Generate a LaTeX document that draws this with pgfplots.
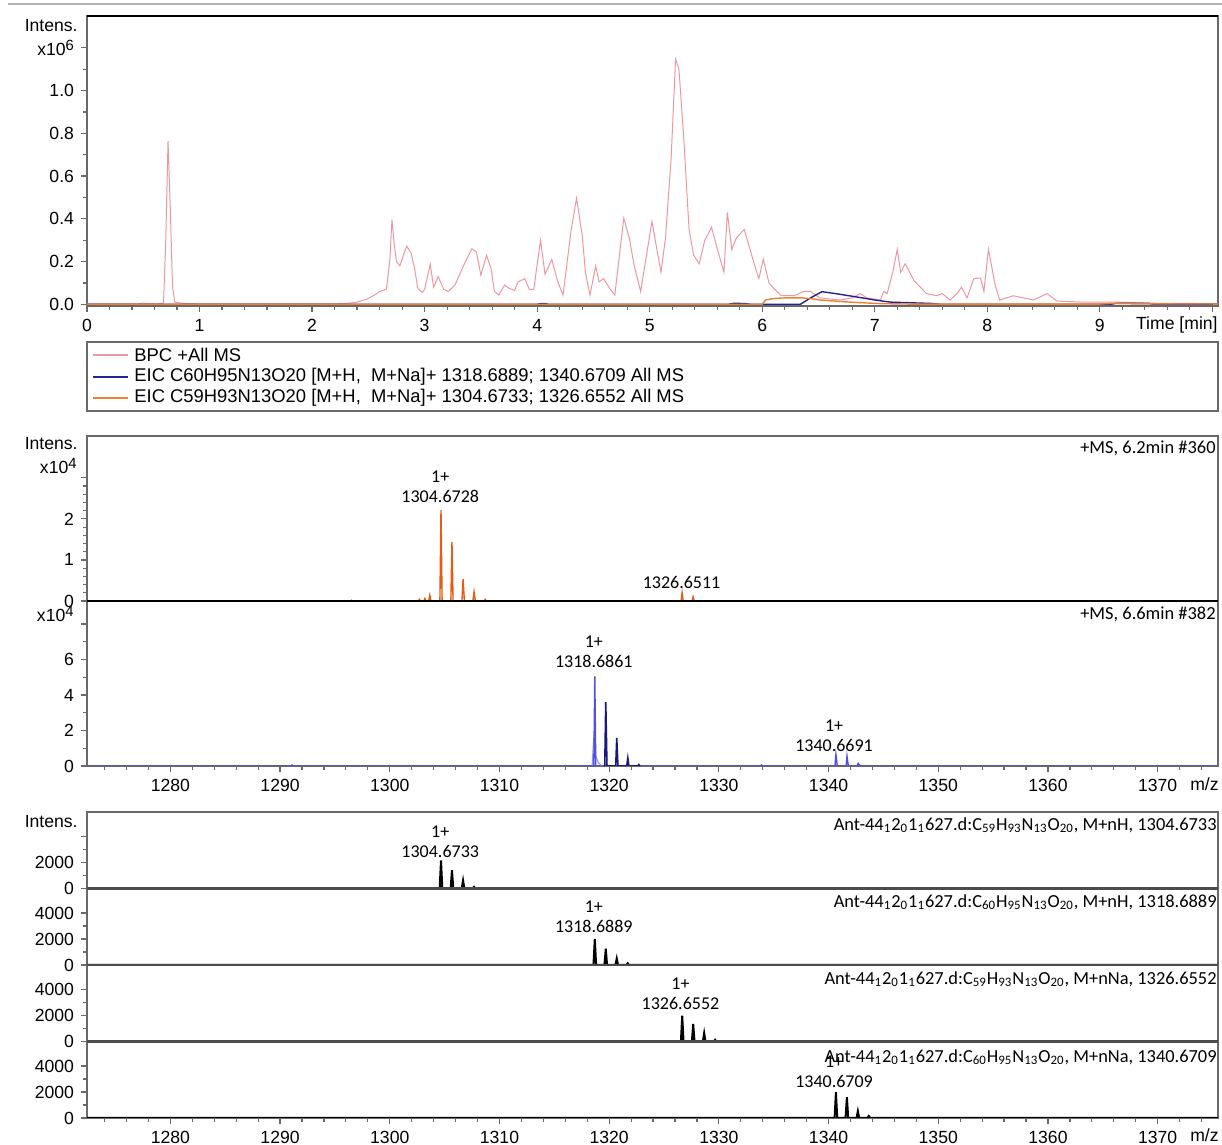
\documentclass[border=0pt]{standalone}
\usepackage{pgfplots}
\pgfplotsset{compat=1.18}
\usepackage{fontspec}
\setmainfont{Liberation Sans}
\newfontfamily\calfont{Carlito}

\definecolor{axcol}{RGB}{105,105,105}
\definecolor{bpc}{RGB}{238,150,162}
\definecolor{eicblue}{RGB}{35,35,150}
\definecolor{eicorange}{RGB}{236,128,52}
\definecolor{msorange}{RGB}{228,92,22}
\definecolor{msblue}{RGB}{80,80,225}
\definecolor{msnavy}{RGB}{25,25,125}

\newcommand{\tickfont}{\fontsize{8.8}{10}\selectfont}
\newcommand{\annfont}{\calfont\fontsize{9}{10}\selectfont}
\newcommand{\tagfont}{\calfont\fontsize{9.2}{11}\selectfont}

\tikzset{ann/.style={font=\annfont, align=center, anchor=south, inner sep=0.5pt}}
\pgfplotsset{
  base/.style={scale only axis, width=565.5pt, anchor=south west,
    axis line style={axcol, line width=0.8pt},
    tick style={axcol, line width=0.6pt},
    tick align=outside, xtick pos=left, ytick pos=left,
    major tick length=3pt, minor tick length=1.8pt,
    tick label style={font=\tickfont},
    /pgf/number format/assume math mode=true,
    /pgf/number format/1000 sep={},
    scaled x ticks=false, scaled y ticks=false},
  spec/.style={base, xmin=1272.4, xmax=1375.5},
  specx/.style={xtick={1270,1280,...,1380}, minor x tick num=4},
  theo/.style={spec, height=38.25pt, ymin=0, ymax=5880, xtick=\empty,
    ytick={0,2000,4000}, minor y tick num=1},
  pk/.style={black, line width=1pt},
}

\begin{document}
\begin{tikzpicture}
\path[use as bounding box] (0,0) rectangle (611pt,572.5pt);

% chromatogram
\begin{axis}[base, at={(43.5pt,419.5pt)}, height=145pt,
  xmin=0, xmax=10.05, ymin=-0.008, ymax=1.349,
  xtick={0,...,10}, xticklabels={0,1,2,3,4,5,6,7,8,9,{}}, minor x tick num=4,
  ytick={0,0.2,0.4,0.6,0.8,1.0,1.2},
  yticklabels={0.0,0.2,0.4,0.6,0.8,1.0,{x10\raisebox{0.5ex}{\fontsize{7.4}{8}\selectfont 6}}},
  minor y tick num=1]
\addplot[bpc, line width=0.5pt] coordinates {
(0,0.002)(0.45,0.002)(0.5,0.005)(0.55,0.004)(0.62,0.002)(0.68,0.005)(0.7,0.3)(0.72,0.763)(0.74,0.45)(0.76,0.08)(0.78,0.01)(0.85,0.004)(1.0,0.002)(2.2,0.002)(2.31,0.004)(2.4,0.01)(2.49,0.025)(2.56,0.045)(2.6,0.06)(2.66,0.07)(2.69,0.2)(2.71,0.396)(2.73,0.28)(2.75,0.2)(2.78,0.18)(2.84,0.272)(2.88,0.24)(2.91,0.17)(2.94,0.074)(2.98,0.055)(3.0,0.07)(3.05,0.187)(3.08,0.08)(3.12,0.13)(3.17,0.07)(3.21,0.06)(3.27,0.09)(3.35,0.186)(3.42,0.26)(3.46,0.245)(3.5,0.136)(3.55,0.23)(3.59,0.167)(3.62,0.06)(3.66,0.043)(3.71,0.09)(3.75,0.075)(3.8,0.065)(3.83,0.105)(3.89,0.12)(3.93,0.07)(3.97,0.07)(4.03,0.30)(4.07,0.14)(4.13,0.21)(4.18,0.11)(4.23,0.043)(4.3,0.34)(4.35,0.496)(4.4,0.325)(4.43,0.145)(4.47,0.043)(4.52,0.18)(4.55,0.105)(4.59,0.12)(4.65,0.07)(4.69,0.043)(4.77,0.403)(4.82,0.307)(4.86,0.186)(4.92,0.06)(5.02,0.388)(5.1,0.15)(5.14,0.307)(5.19,0.679)(5.23,1.147)(5.26,1.1)(5.3,0.8)(5.35,0.35)(5.39,0.23)(5.44,0.19)(5.49,0.30)(5.55,0.36)(5.6,0.26)(5.66,0.15)(5.69,0.43)(5.73,0.256)(5.77,0.31)(5.84,0.35)(5.89,0.26)(5.93,0.186)(5.97,0.12)(6.01,0.21)(6.06,0.1)(6.11,0.07)(6.17,0.04)(6.28,0.04)(6.37,0.06)(6.43,0.06)(6.51,0.03)(6.69,0.02)(6.8,0.03)(6.87,0.05)(6.93,0.03)(7.05,0.02)(7.08,0.06)(7.11,0.05)(7.16,0.15)(7.2,0.257)(7.23,0.15)(7.27,0.19)(7.35,0.11)(7.46,0.05)(7.55,0.04)(7.6,0.05)(7.67,0.02)(7.73,0.05)(7.77,0.08)(7.82,0.03)(7.88,0.12)(7.94,0.123)(7.97,0.06)(8.01,0.257)(8.07,0.09)(8.11,0.02)(8.23,0.04)(8.41,0.02)(8.53,0.05)(8.62,0.015)(8.85,0.01)(9.15,0.01)(9.44,0.005)(10.05,0.003)};
\addplot[eicblue, line width=0.7pt] coordinates {
(0,0)(4.0,0)(4.03,0.003)(4.07,0.003)(4.1,0)(5.7,0)(5.75,0.005)(5.85,0.003)(5.9,0)(6.34,0)(6.43,0.03)(6.53,0.059)(6.65,0.05)(6.83,0.035)(7.0,0.02)(7.14,0.01)(7.5,0.004)(7.58,0)(9.1,0)(9.15,0.005)(9.44,0.004)(9.47,0)(10.05,0)};
\addplot[eicorange, line width=0.7pt] coordinates {
(0,0)(6.0,0)(6.03,0.02)(6.1,0.027)(6.2,0.03)(6.35,0.03)(6.45,0.025)(6.51,0.02)(6.78,0.01)(7.05,0.003)(7.3,0.001)(9.0,0.001)(9.1,0.004)(9.3,0.002)(10.05,0.001)};
\end{axis}

% MS 6.2 min
\begin{axis}[spec, at={(43.5pt,272pt)}, height=82.5pt, ymin=0, ymax=4.02,
  xtick=\empty, ytick={0,1,2,3}, yticklabels={0,1,2,{}}, minor y tick num=4]
\addplot[msorange, line width=0.7pt] coordinates {
(1272.4,0)(1296.4,0)(1296.5,0.02)(1296.6,0)(1302.6,0)(1302.7,0.04)(1302.8,0)(1303.1,0)(1303.2,0.06)(1303.3,0)(1303.55,0)(1303.65,0.14)(1303.75,0)(1304.57,0)(1304.67,2.22)(1304.77,0)(1305.57,0)(1305.67,1.44)(1305.77,0)(1306.58,0)(1306.68,0.54)(1306.8,0)(1307.58,0)(1307.68,0.22)(1307.8,0)(1308.6,0)(1308.7,0.04)(1308.8,0)(1326.55,0)(1326.65,0.2)(1326.75,0)(1327.55,0)(1327.65,0.1)(1327.75,0)(1375.5,0)};
\node[ann] at (axis cs:1304.6,2.36) {1+\\1304.6728};
\node[ann] at (axis cs:1326.6,0.27) {1326.6511};
\end{axis}

% MS 6.6 min
\begin{axis}[spec, specx, at={(43.5pt,189.5pt)}, height=82.5pt, ymin=0, ymax=9.3,
  ytick={0,2,4,6,8}, yticklabels={0,2,4,6,{}}, minor y tick num=1]
\addplot[msblue!60, line width=0.6pt] coordinates {
(1318.45,0)(1318.6,1.6)(1318.75,0.6)(1319.0,0.2)(1319.3,0)};
\addplot[msblue, line width=0.7pt] coordinates {
(1272.4,0)(1291.0,0)(1291.1,0.06)(1291.2,0)(1318.6,0)(1318.69,5.05)(1318.78,0)(1333.8,0)(1333.9,0.06)(1334.0,0)(1340.58,0)(1340.67,0.65)(1340.8,0)(1341.6,0)(1341.68,0.55)(1341.8,0)(1342.6,0)(1342.7,0.15)(1342.9,0)(1375.5,0)};
\addplot[msnavy, line width=0.8pt] coordinates {
(1319.6,0)(1319.69,3.6)(1319.8,0)(1320.6,0)(1320.69,1.58)(1320.8,0)(1321.6,0)(1321.7,0.45)(1321.8,0)(1322.6,0)(1322.7,0.08)(1322.8,0)};
\node[ann] at (axis cs:1318.6,5.45) {1+\\1318.6861};
\node[ann] at (axis cs:1340.5,0.72) {1+\\1340.6691};
\end{axis}

% theoretical patterns
\begin{axis}[theo, at={(43.5pt,128.25pt)}, yticklabels={0,2000,{}}]
\addplot[pk] coordinates {
(1272.4,0)(1304.55,0)(1304.67,2150)(1304.79,0)(1305.55,0)(1305.67,1400)(1305.79,0)(1306.56,0)(1306.68,620)(1306.8,0)(1307.56,0)(1307.68,120)(1307.8,0)(1375.5,0)};
\node[ann] at (axis cs:1304.6,2300) {1+\\1304.6733};
\end{axis}
\begin{axis}[theo, at={(43.5pt,90pt)}]
\addplot[pk] coordinates {
(1272.4,0)(1318.57,0)(1318.69,2000)(1318.81,0)(1319.57,0)(1319.69,1250)(1319.81,0)(1320.57,0)(1320.69,500)(1320.81,0)(1321.57,0)(1321.69,130)(1321.81,0)(1375.5,0)};
\node[ann] at (axis cs:1318.6,2400) {1+\\1318.6889};
\end{axis}
\begin{axis}[theo, at={(43.5pt,51.75pt)}]
\addplot[pk] coordinates {
(1272.4,0)(1326.54,0)(1326.66,1980)(1326.78,0)(1327.54,0)(1327.66,1350)(1327.78,0)(1328.54,0)(1328.66,650)(1328.78,0)(1329.54,0)(1329.66,130)(1329.78,0)(1375.5,0)};
\node[ann] at (axis cs:1326.5,2330) {1+\\1326.6552};
\end{axis}
\begin{axis}[theo, specx, at={(43.5pt,13.5pt)}]
\addplot[pk] coordinates {
(1272.4,0)(1340.55,0)(1340.67,1980)(1340.79,0)(1341.55,0)(1341.67,1600)(1341.79,0)(1342.55,0)(1342.67,530)(1342.79,0)(1343.55,0)(1343.67,150)(1343.79,0)(1375.5,0)};
\node[ann] at (axis cs:1340.5,2260) {1+\\1340.6709};
\end{axis}

% frame details and texts, in pixel units
\begin{scope}[x=0.5pt, y=-0.5pt, shift={(0,572.5pt)}]
\draw[gray!60, line width=0.6pt] (8,4) -- (1222,4);
\draw[black, line width=1.4pt] (87,16) -- (1218,16);
\draw[black, line width=1.1pt] (87,601) -- (1218,601);
\foreach \yy in {888.5,965,1041.5} \draw[black!70, line width=1.1pt] (87,\yy) -- (1218,\yy);

\node[anchor=east, font=\tickfont, inner sep=0] at (78,26) {Intens.};
\node[anchor=east, font=\tickfont, inner sep=0] at (1218,325) {Time [min]};

\draw[axcol, line width=0.8pt] (87,342) rectangle (1218,411);
\draw[bpc, line width=0.7pt] (93,355) -- (128,355);
\draw[eicblue, line width=0.7pt] (93,377) -- (128,377);
\draw[eicorange, line width=0.9pt] (93,398) -- (128,398);
\begin{scope}[every node/.style={anchor=west, font=\fontsize{9.2}{10}\selectfont, inner sep=0}]
\node at (134,355) {BPC +All MS};
\node at (134,377) {EIC C60H95N13O20 [M+H,\ \ M+Na]+ 1318.6889; 1340.6709 All MS};
\node at (134,398) {EIC C59H93N13O20 [M+H,\ \ M+Na]+ 1304.6733; 1326.6552 All MS};
\end{scope}

\node[anchor=east, font=\tickfont, inner sep=0] at (78,444) {Intens.};
\node[anchor=east, font=\tickfont, inner sep=0] at (77,466) {x10\raisebox{0.5ex}{\fontsize{7.4}{8}\selectfont 4}};
\node[anchor=east, font=\tickfont, inner sep=0] at (74,614) {x10\raisebox{0.5ex}{\fontsize{7.4}{8}\selectfont 4}};
\node[anchor=east, font=\tagfont, inner sep=0] at (1216,448) {+MS, 6.2min \#360};
\node[anchor=east, font=\tagfont, inner sep=0] at (1216,614) {+MS, 6.6min \#382};
\node[anchor=east, font=\tickfont, inner sep=0] at (1219,784) {m/z};

\node[anchor=east, font=\tickfont, inner sep=0] at (78,822) {Intens.};
\begin{scope}[every node/.style={anchor=east, font=\tagfont, inner sep=0}]
\node at (1217,825) {Ant-44\textsubscript{1}2\textsubscript{0}1\textsubscript{1}627.d:C\textsubscript{59}H\textsubscript{93}N\textsubscript{13}O\textsubscript{20}, M+nH, 1304.6733};
\node at (1217,902) {Ant-44\textsubscript{1}2\textsubscript{0}1\textsubscript{1}627.d:C\textsubscript{60}H\textsubscript{95}N\textsubscript{13}O\textsubscript{20}, M+nH, 1318.6889};
\node at (1217,979) {Ant-44\textsubscript{1}2\textsubscript{0}1\textsubscript{1}627.d:C\textsubscript{59}H\textsubscript{93}N\textsubscript{13}O\textsubscript{20}, M+nNa, 1326.6552};
\node at (1217,1057) {Ant-44\textsubscript{1}2\textsubscript{0}1\textsubscript{1}627.d:C\textsubscript{60}H\textsubscript{95}N\textsubscript{13}O\textsubscript{20}, M+nNa, 1340.6709};
\end{scope}
\node[anchor=east, font=\tickfont, inner sep=0] at (1219,1135) {m/z};
\end{scope}
\end{tikzpicture}
\end{document}
